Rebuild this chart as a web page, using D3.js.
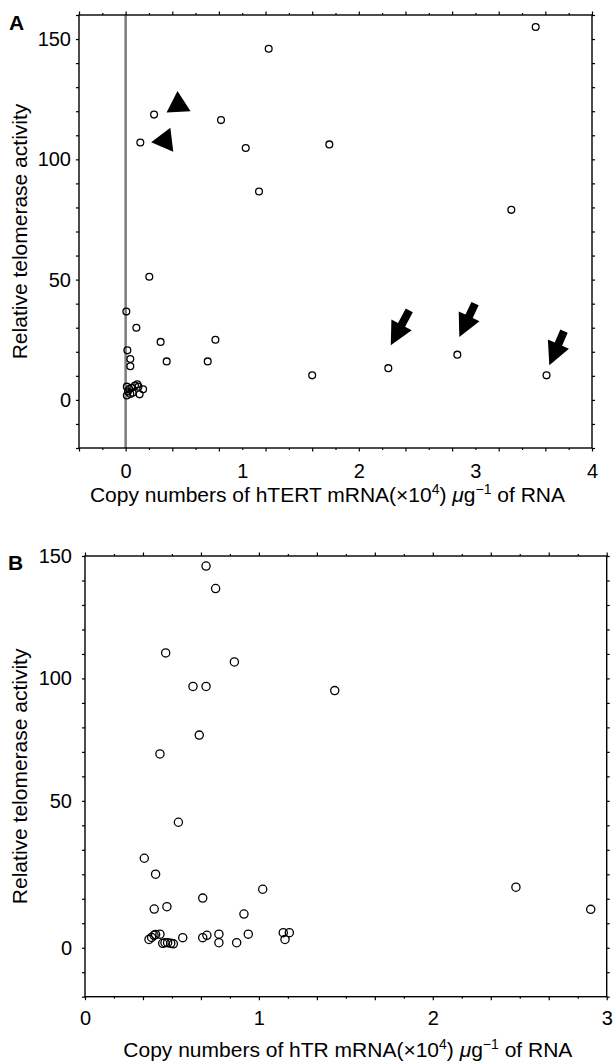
<!DOCTYPE html>
<html>
<head>
<meta charset="utf-8">
<script src="https://cdn.jsdelivr.net/npm/d3@7"></script>
<style>
    body { margin: 0; background: #fff; }
    svg { display: block; font-family: "Liberation Sans", Arial, Helvetica, sans-serif; }
    .axis text { font-size: 20px; fill: #000; }
    .axis line { stroke: #000; stroke-width: 1.2; }
    .title { font-size: 21px; fill: #000; }
    .panel-label { font-size: 21px; font-weight: bold; fill: #000; }
</style>
</head>
<body>
<svg id="chart" width="614" height="1062"></svg>
<script>
// Panel A: hTERT mRNA copy numbers vs relative telomerase activity
const hTertX = [0.006, 0.015, 0.04, 0.04, 0.01, 0.02, 0.01, 0.03, 0.04, 0.05, 0.06, 0.08, 0.10, 0.11, 0.12, 0.15,
    0.092, 0.126, 0.203, 0.244, 0.30, 0.352, 0.704, 0.77, 0.818, 1.03, 1.144, 1.227, 1.60, 1.747, 2.253, 2.845, 3.308, 3.517, 3.61];
const hTertY = [36.7, 20.6, 17, 14, 5.5, 3.5, 1.8, 4.5, 2.5, 5, 3, 6, 6.5, 5.5, 2.3, 4.4,
    30, 107, 51.2, 118.6, 24.1, 16, 16, 25, 116.3, 104.7, 86.6, 146, 10.2, 106.2, 13.2, 18.8, 79, 155, 10.2];

// Arrows in panel A (tip and tail, data units)
const arrowTipX = [2.274, 2.862, 3.634];
const arrowTipY = [22.7, 26.1, 14.4];
const arrowTailX = [2.433, 2.997, 3.760];
const arrowTailY = [37.2, 40.0, 28.6];

// Arrowheads (filled triangles) in panel A
const triangleX = [0.451, 0.337];
const triangleY = [122.6, 107.8];
const triangleAngle = [-3, -97];

// Panel B: hTR copy numbers vs relative telomerase activity
const hTrX = [0.696, 0.751, 0.464, 0.859, 0.621, 0.696, 0.657, 0.431, 1.436,
    0.537, 0.341, 0.406, 0.677, 1.022, 0.398, 0.471, 0.914,
    0.368, 0.383, 0.397, 0.406, 0.431, 0.447, 0.46, 0.475, 0.493, 0.508, 0.562, 0.677, 0.701, 0.770, 0.770, 0.872, 0.939, 1.140, 1.150, 1.175,
    2.478, 2.908];
const hTrY = [145.9, 136.7, 110.4, 106.7, 96.7, 96.7, 76.8, 69.1, 95,
    42.7, 30.5, 25.1, 17, 20, 13.3, 14.1, 11.6,
    3.0, 3.7, 4.4, 4.7, 4.8, 1.7, 1.9, 1.9, 1.7, 1.5, 3.6, 3.6, 4.4, 4.8, 1.9, 1.9, 4.8, 5.3, 3.0, 5.3,
    20.7, 13.2];

// Tick labels
const xLabelsA = [0, 1, 2, 3, 4];
const xLabelsB = [0, 1, 2, 3];
const yLabels = [0, 50, 100, 150];

const svg = d3.select("#chart");

// Scales
const xA = d3.scaleLinear().domain([-0.4, 4]).range([79, 592]);
const yA = d3.scaleLinear().domain([-20, 160]).range([448, 15]);

const xB = d3.scaleLinear().domain([0, 3]).range([85, 606.7]);
// the printed y axis of panel B is uneven: 0..50 is stretched
const yB = d3.scaleLinear().domain([0, 50, 150]).range([948.3, 800.7, 556]);
const yBTicks = d3.scaleLinear().domain([-30, 150]).range([996.7, 556]);

// Draw tick marks (no labels) on one side
function addTicks(axisFn, scale, values, size, translate) {
    svg.append("g")
        .attr("class", "axis")
        .attr("transform", translate)
        .call(axisFn(scale).tickValues(values).tickSize(size).tickSizeOuter(0).tickFormat(""))
        .call(g => g.select(".domain").remove());
}

// Draw tick labels only
function addLabels(axisFn, scale, values, padding, translate) {
    svg.append("g")
        .attr("class", "axis")
        .attr("transform", translate)
        .call(axisFn(scale).tickValues(values).tickSize(0).tickPadding(padding).tickFormat(d3.format("d")))
        .call(g => g.select(".domain").remove())
        .call(g => g.selectAll("line").remove());
}

function drawFrame(left, top, right, bottom) {
    svg.append("rect")
        .attr("x", left).attr("y", top)
        .attr("width", right - left).attr("height", bottom - top)
        .attr("fill", "none")
        .attr("stroke", "#000")
        .attr("stroke-width", 1.4);
}

function drawPoints(xs, ys, x, y, r) {
    svg.append("g")
        .selectAll("circle")
        .data(xs.map((d, i) => [d, ys[i]]))
        .join("circle")
        .attr("cx", d => x(d[0]))
        .attr("cy", d => y(d[1]))
        .attr("r", r)
        .attr("fill", "none")
        .attr("stroke", "#000")
        .attr("stroke-width", 1.3);
}

// ---------- Panel A ----------
const [aLeft, aRight] = xA.range();
const [aBottom, aTop] = yA.range();

const xTicksA = d3.range(-2, 21).map(i => +(i * 0.2).toFixed(1));
const xMajorA = xTicksA.filter((d, i) => i % 2 === 0);
const xMinorA = xTicksA.filter((d, i) => i % 2 === 1);
const yTicksA = d3.range(-20, 161, 10);

// zero line
svg.append("line")
    .attr("x1", xA(0)).attr("x2", xA(0))
    .attr("y1", aTop).attr("y2", aBottom)
    .attr("stroke", "#808080")
    .attr("stroke-width", 2.6);

addTicks(d3.axisBottom, xA, xMajorA, 3.5, `translate(0,${aBottom})`);
addTicks(d3.axisBottom, xA, xMinorA, 2, `translate(0,${aBottom})`);
addTicks(d3.axisTop, xA, xMajorA, 3.5, `translate(0,${aTop})`);
addTicks(d3.axisTop, xA, xMinorA, 2, `translate(0,${aTop})`);
addTicks(d3.axisLeft, yA, yTicksA, 3, `translate(${aLeft},0)`);
addTicks(d3.axisRight, yA, yTicksA, 3, `translate(${aRight},0)`);
drawFrame(aLeft, aTop, aRight, aBottom);

addLabels(d3.axisBottom, xA, xLabelsA, 15.5, `translate(0,${aBottom})`);
addLabels(d3.axisLeft, yA, yLabels, 8, `translate(${aLeft},0)`);

drawPoints(hTertX, hTertY, xA, yA, 3.4);

// arrows pointing at the high hTERT / low activity samples
const arrowData = arrowTipX.map((d, i) => ({
    tip: [xA(d), yA(arrowTipY[i])],
    tail: [xA(arrowTailX[i]), yA(arrowTailY[i])]
}));

function arrowPoints(a) {
    const dx = a.tip[0] - a.tail[0], dy = a.tip[1] - a.tail[1];
    const len = Math.hypot(dx, dy);
    const ux = dx / len, uy = dy / len;
    const nx = -uy, ny = ux;
    const headLen = 23, headHalf = 11.5, shaftHalf = 4;
    const neck = [a.tip[0] - ux * headLen, a.tip[1] - uy * headLen];
    return [
        [a.tail[0] + nx * shaftHalf, a.tail[1] + ny * shaftHalf],
        [neck[0] + nx * shaftHalf, neck[1] + ny * shaftHalf],
        [neck[0] + nx * headHalf, neck[1] + ny * headHalf],
        a.tip,
        [neck[0] - nx * headHalf, neck[1] - ny * headHalf],
        [neck[0] - nx * shaftHalf, neck[1] - ny * shaftHalf],
        [a.tail[0] - nx * shaftHalf, a.tail[1] - ny * shaftHalf]
    ].map(p => p.join(",")).join(" ");
}

svg.append("g")
    .selectAll("polygon")
    .data(arrowData)
    .join("polygon")
    .attr("points", arrowPoints)
    .attr("fill", "#000");

svg.append("g")
    .selectAll("path")
    .data(triangleX.map((d, i) => ({ x: d, y: triangleY[i], a: triangleAngle[i] })))
    .join("path")
    .attr("d", d3.symbol(d3.symbolTriangle, 250))
    .attr("transform", d => `translate(${xA(d.x)},${yA(d.y)}) rotate(${d.a})`)
    .attr("fill", "#000");

// ---------- Panel B ----------
const [bLeft, bRight] = xB.range();
const bTop = yB.range()[2];
const bBottom = yBTicks.range()[0];

const xTicksB = d3.range(0, 19).map(i => i / 6);
const xMajorB = xTicksB.filter((d, i) => i % 2 === 0);
const xMinorB = xTicksB.filter((d, i) => i % 2 === 1);
const yTicksB = d3.range(-30, 151, 10);

addTicks(d3.axisBottom, xB, xMajorB, 3.5, `translate(0,${bBottom})`);
addTicks(d3.axisBottom, xB, xMinorB, 2, `translate(0,${bBottom})`);
addTicks(d3.axisTop, xB, xMajorB, 3.5, `translate(0,${bTop})`);
addTicks(d3.axisTop, xB, xMinorB, 2, `translate(0,${bTop})`);
addTicks(d3.axisLeft, yBTicks, yTicksB, 3, `translate(${bLeft},0)`);
addTicks(d3.axisRight, yBTicks, yTicksB, 3, `translate(${bRight},0)`);
drawFrame(bLeft, bTop, bRight, bBottom);

addLabels(d3.axisBottom, xB, xLabelsB, 14.5, `translate(0,${bBottom})`);
addLabels(d3.axisLeft, yB, yLabels, 13, `translate(${bLeft},0)`);

drawPoints(hTrX, hTrY, xB, yB, 4.1);

// ---------- Titles ----------
function xTitle(x, y, gene) {
    const t = svg.append("text")
        .attr("class", "title")
        .attr("x", x)
        .attr("y", y)
        .attr("text-anchor", "middle");
    t.append("tspan").text(`Copy numbers of ${gene} mRNA(\u00d710`);
    t.append("tspan").attr("font-size", "14px").attr("dy", -8).text("4");
    t.append("tspan").attr("dy", 8).text(") ");
    t.append("tspan").attr("font-style", "italic").text("\u03bc");
    t.append("tspan").text("g");
    t.append("tspan").attr("font-size", "14px").attr("dy", -8).text("\u22121");
    t.append("tspan").attr("dy", 8).text(" of RNA");
}

function yTitle(cx, cy) {
    svg.append("text")
        .attr("class", "title")
        .attr("transform", `translate(${cx},${cy}) rotate(-90)`)
        .attr("text-anchor", "middle")
        .text("Relative telomerase activity");
}

xTitle((aLeft + aRight) / 2 - 8, 502, "hTERT");
yTitle(27, (aTop + aBottom) / 2);
xTitle((bLeft + bRight) / 2 + 2, 1057, "hTR");
yTitle(27, (bTop + bBottom) / 2);

svg.append("text").attr("class", "panel-label").attr("x", 9).attr("y", 30).text("A");
svg.append("text").attr("class", "panel-label").attr("x", 8).attr("y", 570).text("B");
</script>
</body>
</html>
